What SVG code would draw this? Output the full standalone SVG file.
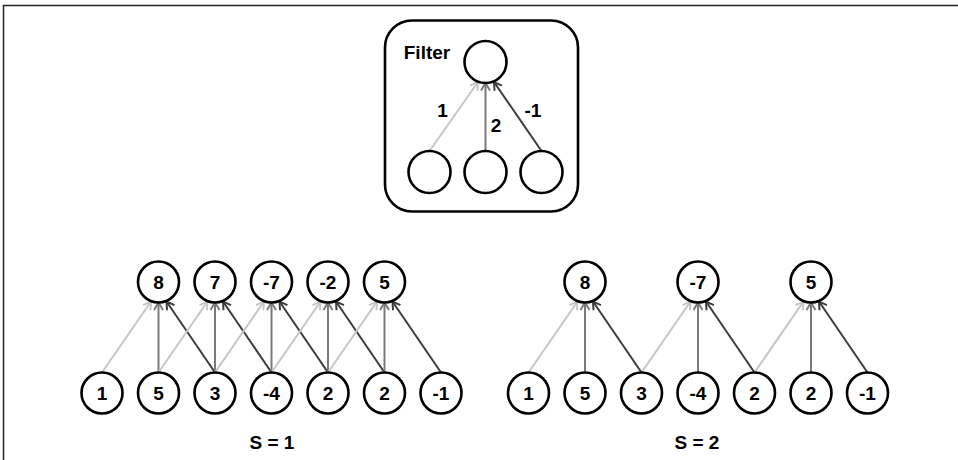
<svg xmlns="http://www.w3.org/2000/svg" width="958" height="460" viewBox="0 0 958 460">
<style>
text{font-family:"Liberation Sans",Arial,sans-serif;font-weight:bold;font-size:19px;fill:#000;text-anchor:middle}
.n{fill:#fff;stroke:#000;stroke-width:2.6}
.c1{stroke:#c6c6c6;stroke-width:2;fill:none;marker-end:url(#a1)}
.c2{stroke:#7a7a7a;stroke-width:2;fill:none;marker-end:url(#a2)}
.c3{stroke:#3c3c3c;stroke-width:2;fill:none;marker-end:url(#a3)}
</style>
<defs>
<marker id="a1" markerUnits="userSpaceOnUse" viewBox="-10 -6 12 12" refX="0" refY="0" markerWidth="12" markerHeight="12" orient="auto"><path d="M-7.5,-4.5 L0,0 L-7.5,4.5" fill="none" stroke="#c6c6c6" stroke-width="2"/></marker>
<marker id="a2" markerUnits="userSpaceOnUse" viewBox="-10 -6 12 12" refX="0" refY="0" markerWidth="12" markerHeight="12" orient="auto"><path d="M-7.5,-4.5 L0,0 L-7.5,4.5" fill="none" stroke="#7a7a7a" stroke-width="2"/></marker>
<marker id="a3" markerUnits="userSpaceOnUse" viewBox="-10 -6 12 12" refX="0" refY="0" markerWidth="12" markerHeight="12" orient="auto"><path d="M-7.5,-4.5 L0,0 L-7.5,4.5" fill="none" stroke="#3c3c3c" stroke-width="2"/></marker>
</defs>
<path d="M3.5,460 V5.5 H958" fill="none" stroke="#222" stroke-width="1.5"/>

<g id="filter">
<rect x="385" y="20.5" width="193" height="191" rx="27" ry="27" fill="#fff" stroke="#000" stroke-width="2.6"/>
<text x="427" y="58.5">Filter</text>
<text x="442.5" y="116.5">1</text>
<text x="496" y="131.5">2</text>
<text x="533" y="116.5">-1</text>
</g>
<g id="filter-connectors">
<line class="c1" x1="429.5" y1="151" x2="478" y2="82"/>
<line class="c2" x1="485.5" y1="151" x2="485.5" y2="83"/>
<line class="c3" x1="541.5" y1="151" x2="494" y2="82"/>
</g>
<g id="filter-out"><circle class="n" cx="485.5" cy="62" r="21"/></g>
<g id="filter-in1"><circle class="n" cx="429.5" cy="172" r="21"/></g>
<g id="filter-in2"><circle class="n" cx="485.5" cy="172" r="21"/></g>
<g id="filter-in3"><circle class="n" cx="541.5" cy="172" r="21"/></g>

<g id="connectors-s1">
<line class="c1" x1="102" y1="372.5" x2="151" y2="301.5"/>
<line class="c2" x1="158.5" y1="372.5" x2="158.5" y2="302.5"/>
<line class="c3" x1="215" y1="372.5" x2="166.5" y2="301.5"/>
<line class="c1" x1="158.5" y1="372.5" x2="207.5" y2="301.5"/>
<line class="c2" x1="215" y1="372.5" x2="215" y2="302.5"/>
<line class="c3" x1="271.5" y1="372.5" x2="223" y2="301.5"/>
<line class="c1" x1="215" y1="372.5" x2="264" y2="301.5"/>
<line class="c2" x1="271.5" y1="372.5" x2="271.5" y2="302.5"/>
<line class="c3" x1="328" y1="372.5" x2="279.5" y2="301.5"/>
<line class="c1" x1="271.5" y1="372.5" x2="320.5" y2="301.5"/>
<line class="c2" x1="328" y1="372.5" x2="328" y2="302.5"/>
<line class="c3" x1="384.5" y1="372.5" x2="336" y2="301.5"/>
<line class="c1" x1="328" y1="372.5" x2="377" y2="301.5"/>
<line class="c2" x1="384.5" y1="372.5" x2="384.5" y2="302.5"/>
<line class="c3" x1="441" y1="372.5" x2="392.5" y2="301.5"/>
</g>
<g id="s1-out1"><circle class="n" cx="158.5" cy="282" r="20.5"/><text x="158.5" y="288.8">8</text></g>
<g id="s1-out2"><circle class="n" cx="215" cy="282" r="20.5"/><text x="215" y="288.8">7</text></g>
<g id="s1-out3"><circle class="n" cx="271.5" cy="282" r="20.5"/><text x="271.5" y="288.8">-7</text></g>
<g id="s1-out4"><circle class="n" cx="328" cy="282" r="20.5"/><text x="328" y="288.8">-2</text></g>
<g id="s1-out5"><circle class="n" cx="384.5" cy="282" r="20.5"/><text x="384.5" y="288.8">5</text></g>
<g id="s1-in1"><circle class="n" cx="102" cy="393" r="20.5"/><text x="102" y="399.8">1</text></g>
<g id="s1-in2"><circle class="n" cx="158.5" cy="393" r="20.5"/><text x="158.5" y="399.8">5</text></g>
<g id="s1-in3"><circle class="n" cx="215" cy="393" r="20.5"/><text x="215" y="399.8">3</text></g>
<g id="s1-in4"><circle class="n" cx="271.5" cy="393" r="20.5"/><text x="271.5" y="399.8">-4</text></g>
<g id="s1-in5"><circle class="n" cx="328" cy="393" r="20.5"/><text x="328" y="399.8">2</text></g>
<g id="s1-in6"><circle class="n" cx="384.5" cy="393" r="20.5"/><text x="384.5" y="399.8">2</text></g>
<g id="s1-in7"><circle class="n" cx="441" cy="393" r="20.5"/><text x="441" y="399.8">-1</text></g>
<g id="label-s1"><text x="272" y="449">S = 1</text></g>

<g id="connectors-s2">
<line class="c1" x1="528.5" y1="372.5" x2="577.5" y2="301.5"/>
<line class="c2" x1="585" y1="372.5" x2="585" y2="302.5"/>
<line class="c3" x1="641.5" y1="372.5" x2="593" y2="301.5"/>
<line class="c1" x1="641.5" y1="372.5" x2="690.5" y2="301.5"/>
<line class="c2" x1="698" y1="372.5" x2="698" y2="302.5"/>
<line class="c3" x1="754.5" y1="372.5" x2="706" y2="301.5"/>
<line class="c1" x1="754.5" y1="372.5" x2="803.5" y2="301.5"/>
<line class="c2" x1="811" y1="372.5" x2="811" y2="302.5"/>
<line class="c3" x1="867.5" y1="372.5" x2="819" y2="301.5"/>
</g>
<g id="s2-out1"><circle class="n" cx="585" cy="282" r="20.5"/><text x="585" y="288.8">8</text></g>
<g id="s2-out2"><circle class="n" cx="698" cy="282" r="20.5"/><text x="698" y="288.8">-7</text></g>
<g id="s2-out3"><circle class="n" cx="811" cy="282" r="20.5"/><text x="811" y="288.8">5</text></g>
<g id="s2-in1"><circle class="n" cx="528.5" cy="393" r="20.5"/><text x="528.5" y="399.8">1</text></g>
<g id="s2-in2"><circle class="n" cx="585" cy="393" r="20.5"/><text x="585" y="399.8">5</text></g>
<g id="s2-in3"><circle class="n" cx="641.5" cy="393" r="20.5"/><text x="641.5" y="399.8">3</text></g>
<g id="s2-in4"><circle class="n" cx="698" cy="393" r="20.5"/><text x="698" y="399.8">-4</text></g>
<g id="s2-in5"><circle class="n" cx="754.5" cy="393" r="20.5"/><text x="754.5" y="399.8">2</text></g>
<g id="s2-in6"><circle class="n" cx="811" cy="393" r="20.5"/><text x="811" y="399.8">2</text></g>
<g id="s2-in7"><circle class="n" cx="867.5" cy="393" r="20.5"/><text x="867.5" y="399.8">-1</text></g>
<g id="label-s2"><text x="697" y="449">S = 2</text></g>
</svg>
